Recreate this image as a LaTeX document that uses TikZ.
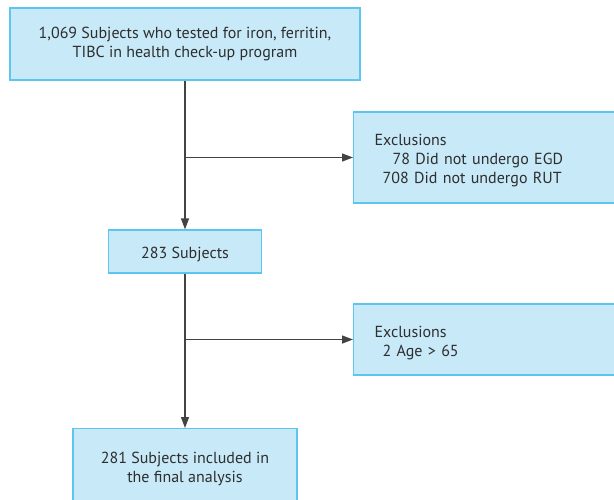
\documentclass[tikz,border=0pt]{standalone}
\usepackage{fontspec}
\setmainfont{PT Sans}
\usepackage{xcolor}
\definecolor{boxfill}{HTML}{C8E9F8}
\definecolor{boxline}{HTML}{5CC6EE}
\definecolor{inkgray}{HTML}{2E2E2E}
\usetikzlibrary{arrows.meta,positioning}
\tikzset{
  fb/.style={draw=boxline, fill=boxfill, line width=1.2pt, text=inkgray,
             font=\fontsize{16}{19}\selectfont, inner sep=0pt,
             execute at begin node={\rule{0pt}{17.5pt}}},
  fmain/.style={fb, align=center},
  fexcl/.style={fb, align=left, anchor=west, text width=240pt, inner xsep=21pt},
  ar/.style={-{Triangle[length=11pt,width=8pt]}, draw=inkgray!90, line width=1.3pt},
}

\begin{document}
\begin{tikzpicture}[x=1pt, y=-1pt]
  \useasboundingbox (0,0) rectangle (614,499);
  \clip (0,0) rectangle (614,499);
  \node[fmain, minimum width=350pt, minimum height=72pt] (all) at (185,44)
    {1,069 Subjects who tested for iron, ferritin,\\TIBC in health check-up program};
  \node[fexcl, minimum height=91pt] (ex1) at (353,157.5)
    {Exclusions\\\hspace*{18pt}78 Did not undergo EGD\\\hspace*{8pt}708 Did not undergo RUT};
  \node[fmain, minimum width=153pt, minimum height=43pt] (sub) at (185,251.5) {283 Subjects};
  \node[fexcl, minimum height=71pt] (ex2) at (353,339.5)
    {Exclusions\\\hspace*{8pt}2 Age > 65};
  \node[fmain, minimum width=224pt, minimum height=80pt, anchor=north] (fin) at (185,428)
    {281 Subjects included in\\the final analysis};
  \coordinate (b1) at (all.south |- ex1.west);
  \coordinate (b2) at (sub.south |- ex2.west);
  \draw[ar] (all) -- (sub);
  \draw[ar] (b1) -- (ex1);
  \draw[ar] (sub) -- (fin);
  \draw[ar] (b2) -- (ex2);
\end{tikzpicture}
\end{document}
